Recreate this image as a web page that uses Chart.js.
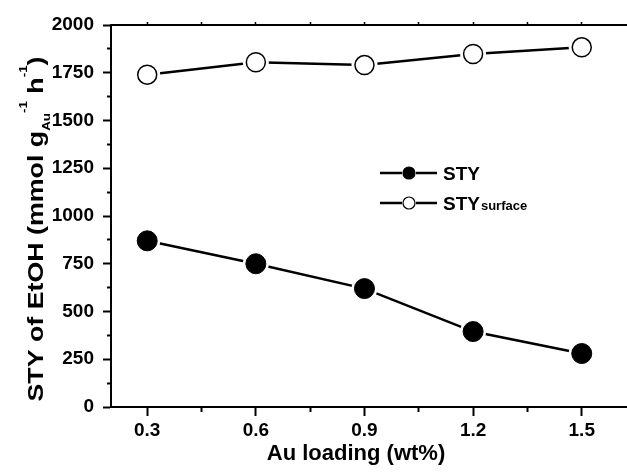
<!DOCTYPE html>
<html>
<head>
<meta charset="utf-8">
<script src="https://cdn.jsdelivr.net/npm/chart.js@4"></script>
<style>
  html, body { margin: 0; padding: 0; background: #fff; overflow: hidden; }
  #chart { display: block; }
</style>
</head>
<body>
<canvas id="chart" width="627" height="472"></canvas>
<script>
// Values
const auLoading = [0.3, 0.6, 0.9, 1.2, 1.5];
const sty = [870, 750, 620, 395, 280];
const stySurface = [1740, 1805, 1790, 1848, 1883];

// Axis ticks
const xTicks = [0.3, 0.6, 0.9, 1.2, 1.5];
const xMinorTicks = [0.45, 0.75, 1.05, 1.35];
const yTicks = [0, 250, 500, 750, 1000, 1250, 1500, 1750, 2000];
const yMinorTicks = [125, 375, 625, 875, 1125, 1375, 1625, 1875];

const FONT = "'Liberation Sans', Arial, Helvetica, sans-serif";
const toPoints = ys => auLoading.map((x, i) => ({ x: x, y: ys[i] }));

// y title has a subscript and superscripts, so draw it by hand
const yTitleParts = [
  { text: 'STY of EtOH (mmol g', size: 22, shift: 0 },
  { text: 'Au', size: 11, shift: 7 },
  { text: '-1', size: 11, shift: -16 },
  { text: ' h', size: 22, shift: 0 },
  { text: '-1', size: 11, shift: -16 },
  { text: ')', size: 22, shift: 0 }
];

const legendItems = [
  { label: 'STY', sub: '', fill: '#000', y: 173 },
  { label: 'STY', sub: 'surface', fill: '#fff', y: 203 }
];

function drawYTitle(ctx) {
  let total = 0;
  yTitleParts.forEach(p => {
    ctx.font = 'bold ' + p.size + 'px ' + FONT;
    p.w = ctx.measureText(p.text).width;
    total += p.w;
  });
  const k = 345 / total;
  ctx.save();
  ctx.translate(43, 229);
  ctx.rotate(-Math.PI / 2);
  ctx.scale(k, 1);
  ctx.textAlign = 'left';
  ctx.textBaseline = 'alphabetic';
  let x = -total / 2;
  yTitleParts.forEach(p => {
    ctx.font = 'bold ' + p.size + 'px ' + FONT;
    ctx.fillText(p.text, x, p.shift);
    x += p.w;
  });
  ctx.restore();
}

function drawLegend(ctx) {
  legendItems.forEach(item => {
    ctx.strokeStyle = '#000';
    ctx.lineWidth = 2.5;
    ctx.beginPath();
    ctx.moveTo(380, item.y);
    ctx.lineTo(402, item.y);
    ctx.moveTo(416, item.y);
    ctx.lineTo(437, item.y);
    ctx.stroke();
    ctx.beginPath();
    ctx.arc(409, item.y, 6, 0, Math.PI * 2);
    ctx.fillStyle = item.fill;
    ctx.fill();
    ctx.lineWidth = 1.2;
    ctx.stroke();
    ctx.fillStyle = '#000';
    ctx.textAlign = 'left';
    ctx.textBaseline = 'alphabetic';
    ctx.font = 'bold 19px ' + FONT;
    ctx.fillText(item.label, 443, item.y + 7);
    if (item.sub) {
      const w = ctx.measureText(item.label).width;
      ctx.font = 'bold 13px ' + FONT;
      ctx.fillText(item.sub, 443 + w + 1, item.y + 7);
    }
  });
}

const extras = {
  id: 'extras',
  afterDraw(chart) {
    const ctx = chart.ctx;
    ctx.save();
    ctx.fillStyle = '#000';
    ctx.font = 'bold 22px ' + FONT;
    ctx.textAlign = 'center';
    ctx.textBaseline = 'middle';
    ctx.fillText('Au loading (wt%)', 356, 454);
    drawYTitle(ctx);
    drawLegend(ctx);
    ctx.restore();
  }
};

const tickFont = { family: FONT, size: 19, weight: 'bold' };
const noPad = s => { s.paddingLeft = 0; s.paddingRight = 0; };

new Chart(document.getElementById('chart'), {
  type: 'scatter',
  data: {
    datasets: [
      // marks on top
      { data: toPoints(sty), order: 1, showLine: false, pointRadius: 10,
        pointBackgroundColor: '#000', pointBorderColor: '#000', pointBorderWidth: 1 },
      { data: toPoints(stySurface), order: 1, showLine: false, pointRadius: 9.5,
        pointBackgroundColor: '#fff', pointBorderColor: '#000', pointBorderWidth: 1.5 },
      // white halo that cuts the line near each mark
      { data: toPoints(sty), order: 2, showLine: false, pointRadius: 13,
        pointBackgroundColor: '#fff', pointBorderWidth: 0 },
      { data: toPoints(stySurface), order: 2, showLine: false, pointRadius: 13,
        pointBackgroundColor: '#fff', pointBorderWidth: 0 },
      // connecting lines
      { data: toPoints(sty), order: 3, showLine: true, pointRadius: 0,
        borderColor: '#000', borderWidth: 2.5 },
      { data: toPoints(stySurface), order: 3, showLine: true, pointRadius: 0,
        borderColor: '#000', borderWidth: 2.5 }
    ]
  },
  options: {
    responsive: false,
    devicePixelRatio: 1,
    animation: false,
    events: [],
    layout: { autoPadding: false, padding: { left: 0, right: 0, top: 25, bottom: 0 } },
    plugins: {
      legend: { display: false },
      tooltip: { enabled: false }
    },
    scales: {
      x: {
        type: 'linear', position: 'bottom', weight: 1,
        min: 0.2, max: 1.625,
        afterBuildTicks: s => { s.ticks = xTicks.map(v => ({ value: v })); },
        afterFit: s => { s.height = 65; noPad(s); },
        border: { display: true, color: '#000', width: 2 },
        grid: { drawOnChartArea: false, tickLength: 9, tickWidth: 2, tickColor: '#000' },
        ticks: { color: '#000', padding: 3, font: tickFont, autoSkip: false, maxRotation: 0,
          callback: v => v.toFixed(1) }
      },
      xm: {
        type: 'linear', position: 'bottom', weight: 0,
        min: 0.2, max: 1.625,
        afterBuildTicks: s => { s.ticks = xMinorTicks.map(v => ({ value: v })); },
        afterFit: s => { s.height = 0; noPad(s); },
        border: { display: false },
        grid: { drawOnChartArea: false, tickLength: 5, tickWidth: 2, tickColor: '#000' },
        ticks: { display: false }
      },
      xt: {
        type: 'linear', position: 'top',
        min: 0.2, max: 1.625,
        afterBuildTicks: s => { s.ticks = xTicks.concat(xMinorTicks).map(v => ({ value: v })); },
        afterFit: s => { s.height = 0; noPad(s); },
        border: { display: true, color: '#000', width: 2 },
        grid: { drawOnChartArea: false, tickLength: 3, tickWidth: 1.5, tickColor: '#000' },
        ticks: { display: false }
      },
      y: {
        type: 'linear', position: 'left', weight: 1,
        min: 0, max: 2000,
        afterBuildTicks: s => { s.ticks = yTicks.map(v => ({ value: v })); },
        afterFit: s => { s.width = 111; },
        border: { display: true, color: '#000', width: 2 },
        grid: { drawOnChartArea: false, tickLength: 8, tickWidth: 2, tickColor: '#000' },
        ticks: { color: '#000', padding: 9, font: tickFont, callback: v => String(v) }
      },
      ym: {
        type: 'linear', position: 'left', weight: 0,
        min: 0, max: 2000,
        afterBuildTicks: s => { s.ticks = yMinorTicks.map(v => ({ value: v })); },
        afterFit: s => { s.width = 0; },
        border: { display: false },
        grid: { drawOnChartArea: false, tickLength: 4, tickWidth: 2, tickColor: '#000' },
        ticks: { display: false }
      }
    }
  },
  plugins: [extras]
});
</script>
</body>
</html>
